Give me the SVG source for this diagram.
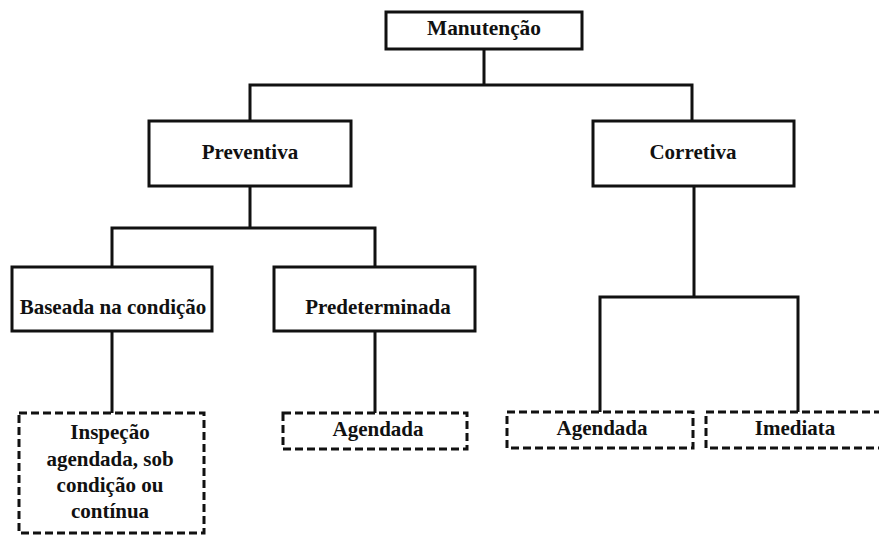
<svg xmlns="http://www.w3.org/2000/svg" width="879" height="535" viewBox="0 0 879 535">
  <style>
    .box { fill: #ffffff; stroke: #111111; stroke-width: 3; }
    .dash { fill: #ffffff; stroke: #111111; stroke-width: 3; stroke-dasharray: 8 4; }
    .wire { fill: none; stroke: #111111; stroke-width: 3; stroke-linecap: square; }
    .lbl { font-family: "Liberation Serif", "Times New Roman", serif; font-weight: bold; font-size: 21px; fill: #111111; text-anchor: middle; }
  </style>
  <rect width="879" height="535" fill="#ffffff"/>

  <g id="connectors">
    <path class="wire" d="M484 49 V85 M250 85 H692 M250 85 V121 M692 85 V121"/>
    <path class="wire" d="M250 186 V228 M112 228 H375 M112 228 V267 M375 228 V267"/>
    <path class="wire" d="M112 331 V413 M375 331 V413"/>
    <path class="wire" d="M694 186 V297 M600 297 H798 M600 297 V412 M798 297 V412"/>
  </g>

  <g id="manutencao">
    <rect class="box" x="386" y="12" width="196" height="37"/>
    <text class="lbl" x="484" y="35" font-size="22" textLength="114" lengthAdjust="spacingAndGlyphs">Manutenção</text>
  </g>

  <g id="preventiva">
    <rect class="box" x="149" y="121" width="202" height="65"/>
    <text class="lbl" x="250" y="159">Preventiva</text>
  </g>

  <g id="corretiva">
    <rect class="box" x="593" y="121" width="201" height="65"/>
    <text class="lbl" x="693" y="159">Corretiva</text>
  </g>

  <g id="baseada-condicao">
    <rect class="box" x="12" y="267" width="200" height="64"/>
    <text class="lbl" x="113" y="314">Baseada na condição</text>
  </g>

  <g id="predeterminada">
    <rect class="box" x="274" y="267" width="201" height="64"/>
    <text class="lbl" x="378" y="314">Predeterminada</text>
  </g>

  <g id="inspecao">
    <rect class="dash" x="19" y="413" width="185" height="120"/>
    <text class="lbl" x="110" y="439">Inspeção</text>
    <text class="lbl" x="110" y="466">agendada, sob</text>
    <text class="lbl" x="110" y="492">condição ou</text>
    <text class="lbl" x="110" y="518">contínua</text>
  </g>

  <g id="agendada-preventiva">
    <rect class="dash" x="283" y="413" width="184" height="36"/>
    <text class="lbl" x="378" y="436">Agendada</text>
  </g>

  <g id="agendada-corretiva">
    <rect class="dash" x="507" y="412" width="186" height="36"/>
    <text class="lbl" x="602" y="435">Agendada</text>
  </g>

  <g id="imediata">
    <rect class="dash" x="706" y="412" width="180" height="36"/>
    <text class="lbl" x="795" y="435">Imediata</text>
  </g>
</svg>
